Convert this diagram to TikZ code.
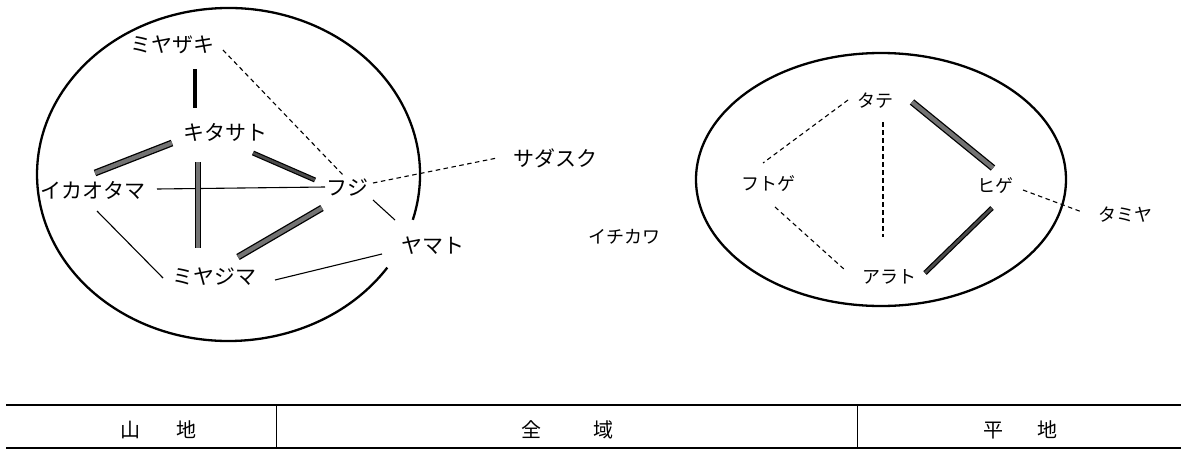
\documentclass[tikz,border=0pt]{standalone}
\usepackage{fontspec}
\newfontfamily\jp{Noto Sans CJK JP}
\usetikzlibrary{calc}
\tikzset{
  big/.style={inner sep=0pt, font=\jp\fontsize{21}{21}\selectfont},
  small/.style={inner sep=0pt, font=\jp\fontsize{18}{18}\selectfont},
  tab/.style={inner sep=0pt, font=\jp\fontsize{20}{20}\selectfont},
  thin/.style={line width=1.1pt},
  dsh/.style={line width=1.1pt, dash pattern=on 4.5pt off 3.5pt},
  heavy/.style={line width=4.5pt},
  hatch/.style={line width=1.3pt, double=black!55, double distance=4.2pt},
  hatchdark/.style={line width=1.2pt, double=black!70, double distance=2.6pt},
  ring/.style={line width=2.3pt},
  rule/.style={line width=1.8pt},
  sep/.style={line width=1pt}
}
\begin{document}
\begin{tikzpicture}[x=1pt,y=-1pt]
\useasboundingbox (0,0) rectangle (1181,450);
\fill[white] (0,0) rectangle (1181,450);
% ellipses (left one is broken where ヤマト sits on its edge)
\draw[ring] (387.3,267.6) arc[start angle=34, end angle=375.8, x radius=191.5, y radius=166.5];
\draw[ring] (881,179.5) ellipse [x radius=185, y radius=126.5];
% left cluster nodes
\node[big] (mz) at (172,45) {ミヤザキ};
\node[big] (kt) at (225,132) {キタサト};
\node[big] (ik) at (93,190) {イカオタマ};
\node[big] (fj) at (347,188) {フジ};
\node[big] (ym) at (433,246) {ヤマト};
\node[big] (mj) at (214,277) {ミヤジマ};
\node[big] (sd) at (555,158) {サダスク};
% middle / right nodes
\node[small] (ic) at (624,237) {イチカワ};
\node[small] (tt) at (875,101) {タテ};
\node[small] (ft) at (768,184) {フトゲ};
\node[small] (hg) at (995,186) {ヒゲ};
\node[small] (tm) at (1125,215) {タミヤ};
\node[small] (ar) at (889,277) {アラト};
% left connectors
\draw[heavy] ($(mz)+(23,24)$) -- ($(kt)+(-30,-24)$);
\draw[dsh] ($(mz)+(51,5)$) -- ($(fj)+(-4,-13)$);
\draw[hatch] ($(kt)+(-53,11)$) -- ($(ik)+(2,-17)$);
\draw[hatchdark] ($(kt)+(28,21)$) -- ($(fj)+(-32,-8)$);
\draw[thin] ($(ik)+(64,-1)$) -- ($(fj)+(-22,-1)$);
\draw[hatch] ($(kt)+(-27,30)$) -- ($(mj)+(-16,-29)$);
\draw[hatch] ($(fj)+(-25,20)$) -- ($(mj)+(24,-20)$);
\draw[thin] ($(ik)+(4,21)$) -- ($(mj)+(-51,1)$);
\draw[thin] ($(mj)+(61,3)$) -- ($(ym)+(-51,8)$);
\draw[thin] ($(fj)+(26,12)$) -- ($(ym)+(-38,-26)$);
\draw[dsh] ($(fj)+(26,-5)$) -- ($(sd)+(-58,0)$);
% right connectors
\draw[dsh] ($(tt)+(-27,-1)$) -- ($(ft)+(-5,-21)$);
\draw[dsh] ($(tt)+(8,21)$) -- ($(ar)+(-6,-40)$);
\draw[dsh] ($(ft)+(7,23)$) -- ($(ar)+(-44,-7)$);
\draw[hatch] ($(tt)+(37,1)$) -- ($(hg)+(-2,-18)$);
\draw[hatchdark] ($(ar)+(36,-4)$) -- ($(hg)+(-3,22)$);
\draw[dsh] ($(hg)+(28,4)$) -- ($(tm)+(-43,-3)$);
% table
\coordinate (tl) at (6,405);
\coordinate (tr) at (1181,405);
\coordinate (bl) at (6,448);
\coordinate (br) at (1181,448);
\draw[rule] (tl) -- (tr);
\draw[rule] (bl) -- (br);
\draw[sep] (276,405) -- (276,448);
\draw[sep] (857,405) -- (857,448);
\node[tab] (t1) at (158.5,430) {山\hspace{36pt}地};
\node[tab] (t2) at (567.5,430) {全\hspace{52pt}域};
\node[tab] (t3) at (1020.5,430) {平\hspace{34pt}地};
\end{tikzpicture}
\end{document}
